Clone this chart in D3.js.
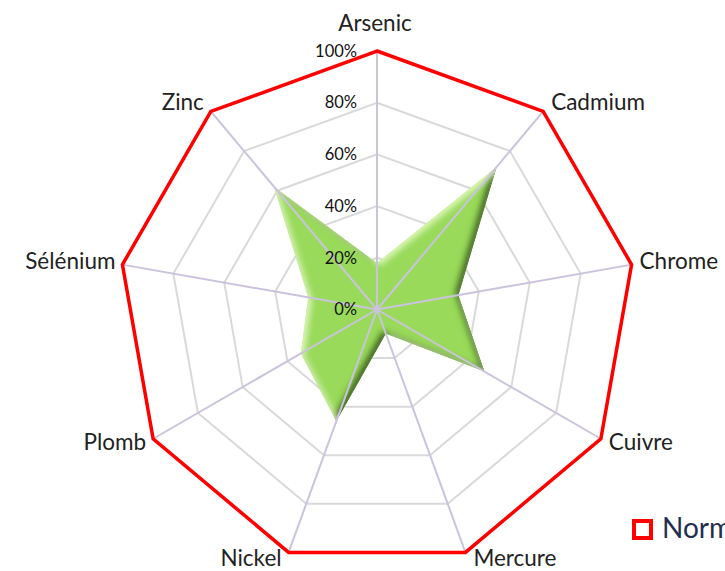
<!DOCTYPE html>
<html>
<head>
<meta charset="utf-8">
<script src="https://cdn.jsdelivr.net/npm/d3@7"></script>
<style>
  body { margin: 0; background: #fff; }
  text { font-family: Lato, "Open Sans", sans-serif; }
</style>
</head>
<body>
<svg id="radar"></svg>
<script>
const elements = ["Arsenic", "Cadmium", "Chrome", "Cuivre", "Mercure", "Nickel", "Plomb", "Sélénium", "Zinc"];
const mesures = [18, 72, 32, 48, 10, 46, 34, 27, 62];
const norme = [100, 100, 100, 100, 100, 100, 100, 100, 100];
const niveaux = [0, 20, 40, 60, 80, 100];
const legende = ["Norme"];

const width = 725, height = 571;
const cx = 377, cy = 309.5, radius = 258.5;

const svg = d3.select("#radar")
  .attr("width", width)
  .attr("height", height);

// bevel look for the green area
const defs = svg.append("defs");
const f = defs.append("filter").attr("id", "bevel")
  .attr("x", "-10%").attr("y", "-10%").attr("width", "120%").attr("height", "120%");
f.append("feGaussianBlur").attr("in", "SourceAlpha").attr("stdDeviation", 3.2).attr("result", "blur");
f.append("feOffset").attr("in", "blur").attr("dx", -4).attr("dy", -3).attr("result", "offDark");
f.append("feComposite").attr("in", "SourceAlpha").attr("in2", "offDark").attr("operator", "arithmetic")
  .attr("k2", 1).attr("k3", -1).attr("result", "edgeDark");
f.append("feFlood").attr("flood-color", "#284d10").attr("flood-opacity", 1);
f.append("feComposite").attr("in2", "edgeDark").attr("operator", "in").attr("result", "dark");
f.append("feOffset").attr("in", "blur").attr("dx", 3).attr("dy", 2).attr("result", "offLight");
f.append("feComposite").attr("in", "SourceAlpha").attr("in2", "offLight").attr("operator", "arithmetic")
  .attr("k2", 1).attr("k3", -1).attr("result", "edgeLight");
f.append("feFlood").attr("flood-color", "#e8ffc0").attr("flood-opacity", 0.85);
f.append("feComposite").attr("in2", "edgeLight").attr("operator", "in").attr("result", "light");
const m = f.append("feMerge");
m.append("feMergeNode").attr("in", "SourceGraphic");
m.append("feMergeNode").attr("in", "dark");
m.append("feMergeNode").attr("in", "light");

const r = d3.scaleLinear().domain([0, 100]).range([0, radius]);
const angle = d3.scalePoint().domain(elements).range([0, 2 * Math.PI * (elements.length - 1) / elements.length]);

const g = svg.append("g").attr("transform", `translate(${cx},${cy})`);

const radial = d3.lineRadial()
  .angle((d, i) => angle(elements[i]))
  .radius(d => r(d))
  .curve(d3.curveLinearClosed);

// grid polygons
g.selectAll(".grid")
  .data(niveaux.filter(v => v > 0))
  .enter().append("path")
  .attr("class", "grid")
  .attr("d", v => radial(elements.map(() => v)))
  .attr("fill", "none")
  .attr("stroke", "#d9d9d9")
  .attr("stroke-width", 2);

// green series
g.append("path")
  .attr("d", radial(mesures))
  .attr("fill", "#99da5a")
  .attr("filter", "url(#bevel)");

// spokes
g.selectAll(".spoke")
  .data(elements)
  .enter().append("line")
  .attr("class", "spoke")
  .attr("x1", 0).attr("y1", 0)
  .attr("x2", d => r(100) * Math.sin(angle(d)))
  .attr("y2", d => -r(100) * Math.cos(angle(d)))
  .attr("stroke", "#cbc3dd")
  .attr("stroke-width", 2);

// norme series
g.append("path")
  .attr("d", radial(norme))
  .attr("fill", "none")
  .attr("stroke", "#ff0000")
  .attr("stroke-width", 3.5)
  .attr("stroke-linejoin", "miter");

// tick labels
g.selectAll(".tick")
  .data(niveaux)
  .enter().append("text")
  .attr("class", "tick")
  .attr("x", -20)
  .attr("y", v => -r(v))
  .attr("dy", "0.35em")
  .attr("text-anchor", "end")
  .attr("font-size", 16.5)
  .attr("fill", "#111")
  .text(v => v + "%");

// category labels
const maxY = height - cy - 5;
g.selectAll(".cat")
  .data(elements)
  .enter().append("text")
  .attr("class", "cat")
  .each(function (d) {
    const a = angle(d), s = Math.sin(a), c = Math.cos(a);
    const vx = r(100) * s, vy = -r(100) * c;
    const t = d3.select(this);
    if (Math.abs(s) < 0.1) {
      t.attr("x", vx - 2).attr("y", vy - 20).attr("text-anchor", "middle");
    } else if (s > 0) {
      t.attr("x", vx + 8).attr("y", Math.min(vy + 6 - 10 * c, maxY)).attr("text-anchor", "start");
    } else {
      t.attr("x", vx - 7).attr("y", Math.min(vy + 6 - 10 * c, maxY)).attr("text-anchor", "end");
    }
  })
  .attr("font-size", 22.5)
  .attr("fill", "#222")
  .text(d => d);

// legend (cut by the right edge, as in the source)
const leg = svg.append("g").attr("transform", "translate(634,521)");
leg.append("rect")
  .attr("width", 17).attr("height", 17)
  .attr("fill", "#fff")
  .attr("stroke", "#ff0000")
  .attr("stroke-width", 4);
leg.append("text")
  .attr("x", 28).attr("y", 17)
  .attr("font-size", 28)
  .attr("fill", "#1f2f4f")
  .text(legende[0]);
</script>
</body>
</html>
